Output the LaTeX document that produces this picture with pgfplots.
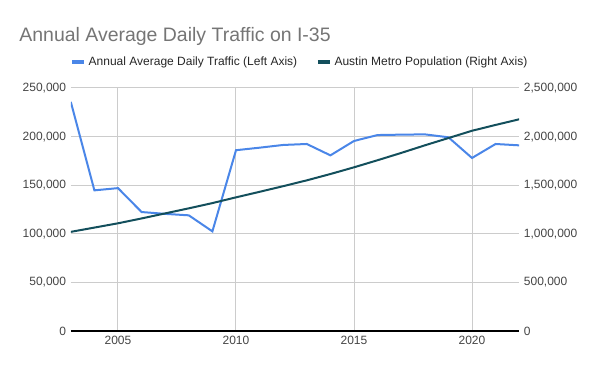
\documentclass[border=0pt]{standalone}
\usepackage{fontspec}
\setmainfont{Liberation Sans}
\usepackage{pgfplots}
\pgfplotsset{compat=1.18}
\definecolor{trafficblue}{HTML}{4A86E8}
\definecolor{popgreen}{HTML}{134F5C}
\definecolor{gridgrey}{HTML}{CCCCCC}
\definecolor{ticktext}{HTML}{444444}
\definecolor{titlegrey}{HTML}{757575}
\definecolor{baseline}{HTML}{333333}
\pgfplotstableread{
year traffic
2003 235700
2004 144700
2005 147000
2006 122400
2007 120500
2008 119000
2009 102500
2010 186000
2011 188600
2012 191400
2013 192400
2014 180700
2015 195500
2016 201600
2017 202000
2018 202300
2019 199300
2020 178000
2021 192400
2022 191000
}\traffic
\pgfplotstableread{
year pop
2003 1020000
2004 1064000
2005 1108000
2006 1158000
2007 1210000
2008 1262000
2009 1316000
2010 1375000
2011 1432000
2012 1490000
2013 1550000
2014 1615000
2015 1684000
2016 1757000
2017 1832000
2018 1910000
2019 1985000
2020 2060000
2021 2120000
2022 2178000
}\population
\begin{document}
\begin{tikzpicture}
\useasboundingbox (0pt,0pt) rectangle (450pt,278.25pt);
\pgfplotsset{
  common/.style={
    scale only axis, width=336.3pt, height=182.25pt,
    at={(53.1pt,30pt)}, anchor=south west,
    xmin=2003, xmax=2022,
    ticklabel style={font=\fontsize{9}{10}\selectfont, text=ticktext},
    /pgf/number format/assume math mode=true,
    major tick length=0pt,
    scaled y ticks=false,
    yticklabel style={/pgf/number format/.cd, fixed, 1000 sep={,}},
  }
}
\begin{axis}[common,
  ymin=0, ymax=250000, ytick={0,50000,...,250000},
  xtick={2005,2010,2015,2020},
  xticklabel style={/pgf/number format/1000 sep={}},
  grid=major, grid style={gridgrey, line width=0.75pt},
  axis x line*=bottom, axis y line*=left,
  x axis line style={baseline, line width=0.9pt, -},
  y axis line style={draw=none},
  legend style={draw=none, fill=none, at={(0.5,1)}, anchor=center, yshift=19.5pt, xshift=3.75pt,
    font=\fontsize{9}{10}\selectfont, text=black!85,
    /tikz/every even column/.append style={column sep=12pt}},
  legend columns=2, legend cell align=left,
  legend image code/.code={\draw[#1, line width=3pt] (0pt,0pt) -- (9pt,0pt);},
]
\addplot[trafficblue, line width=1.5pt] table[x=year, y=traffic] {\traffic};
\addlegendentry{Annual Average Daily Traffic (Left Axis)}
\addlegendimage{popgreen, line width=1.5pt}
\addlegendentry{Austin Metro Population (Right Axis)}
\end{axis}
\begin{axis}[common,
  ymin=0, ymax=2500000, ytick={0,500000,...,2500000},
  hide x axis,
  axis y line*=right,
  y axis line style={draw=none},
]
\addplot[popgreen, line width=1.5pt] table[x=year, y=pop] {\population};
\end{axis}
\node[anchor=base west, font=\fontsize{14.6}{17}\selectfont, text=titlegrey] at (11pt,246.75pt) {Annual Average Daily Traffic on I-35};
\end{tikzpicture}
\end{document}
